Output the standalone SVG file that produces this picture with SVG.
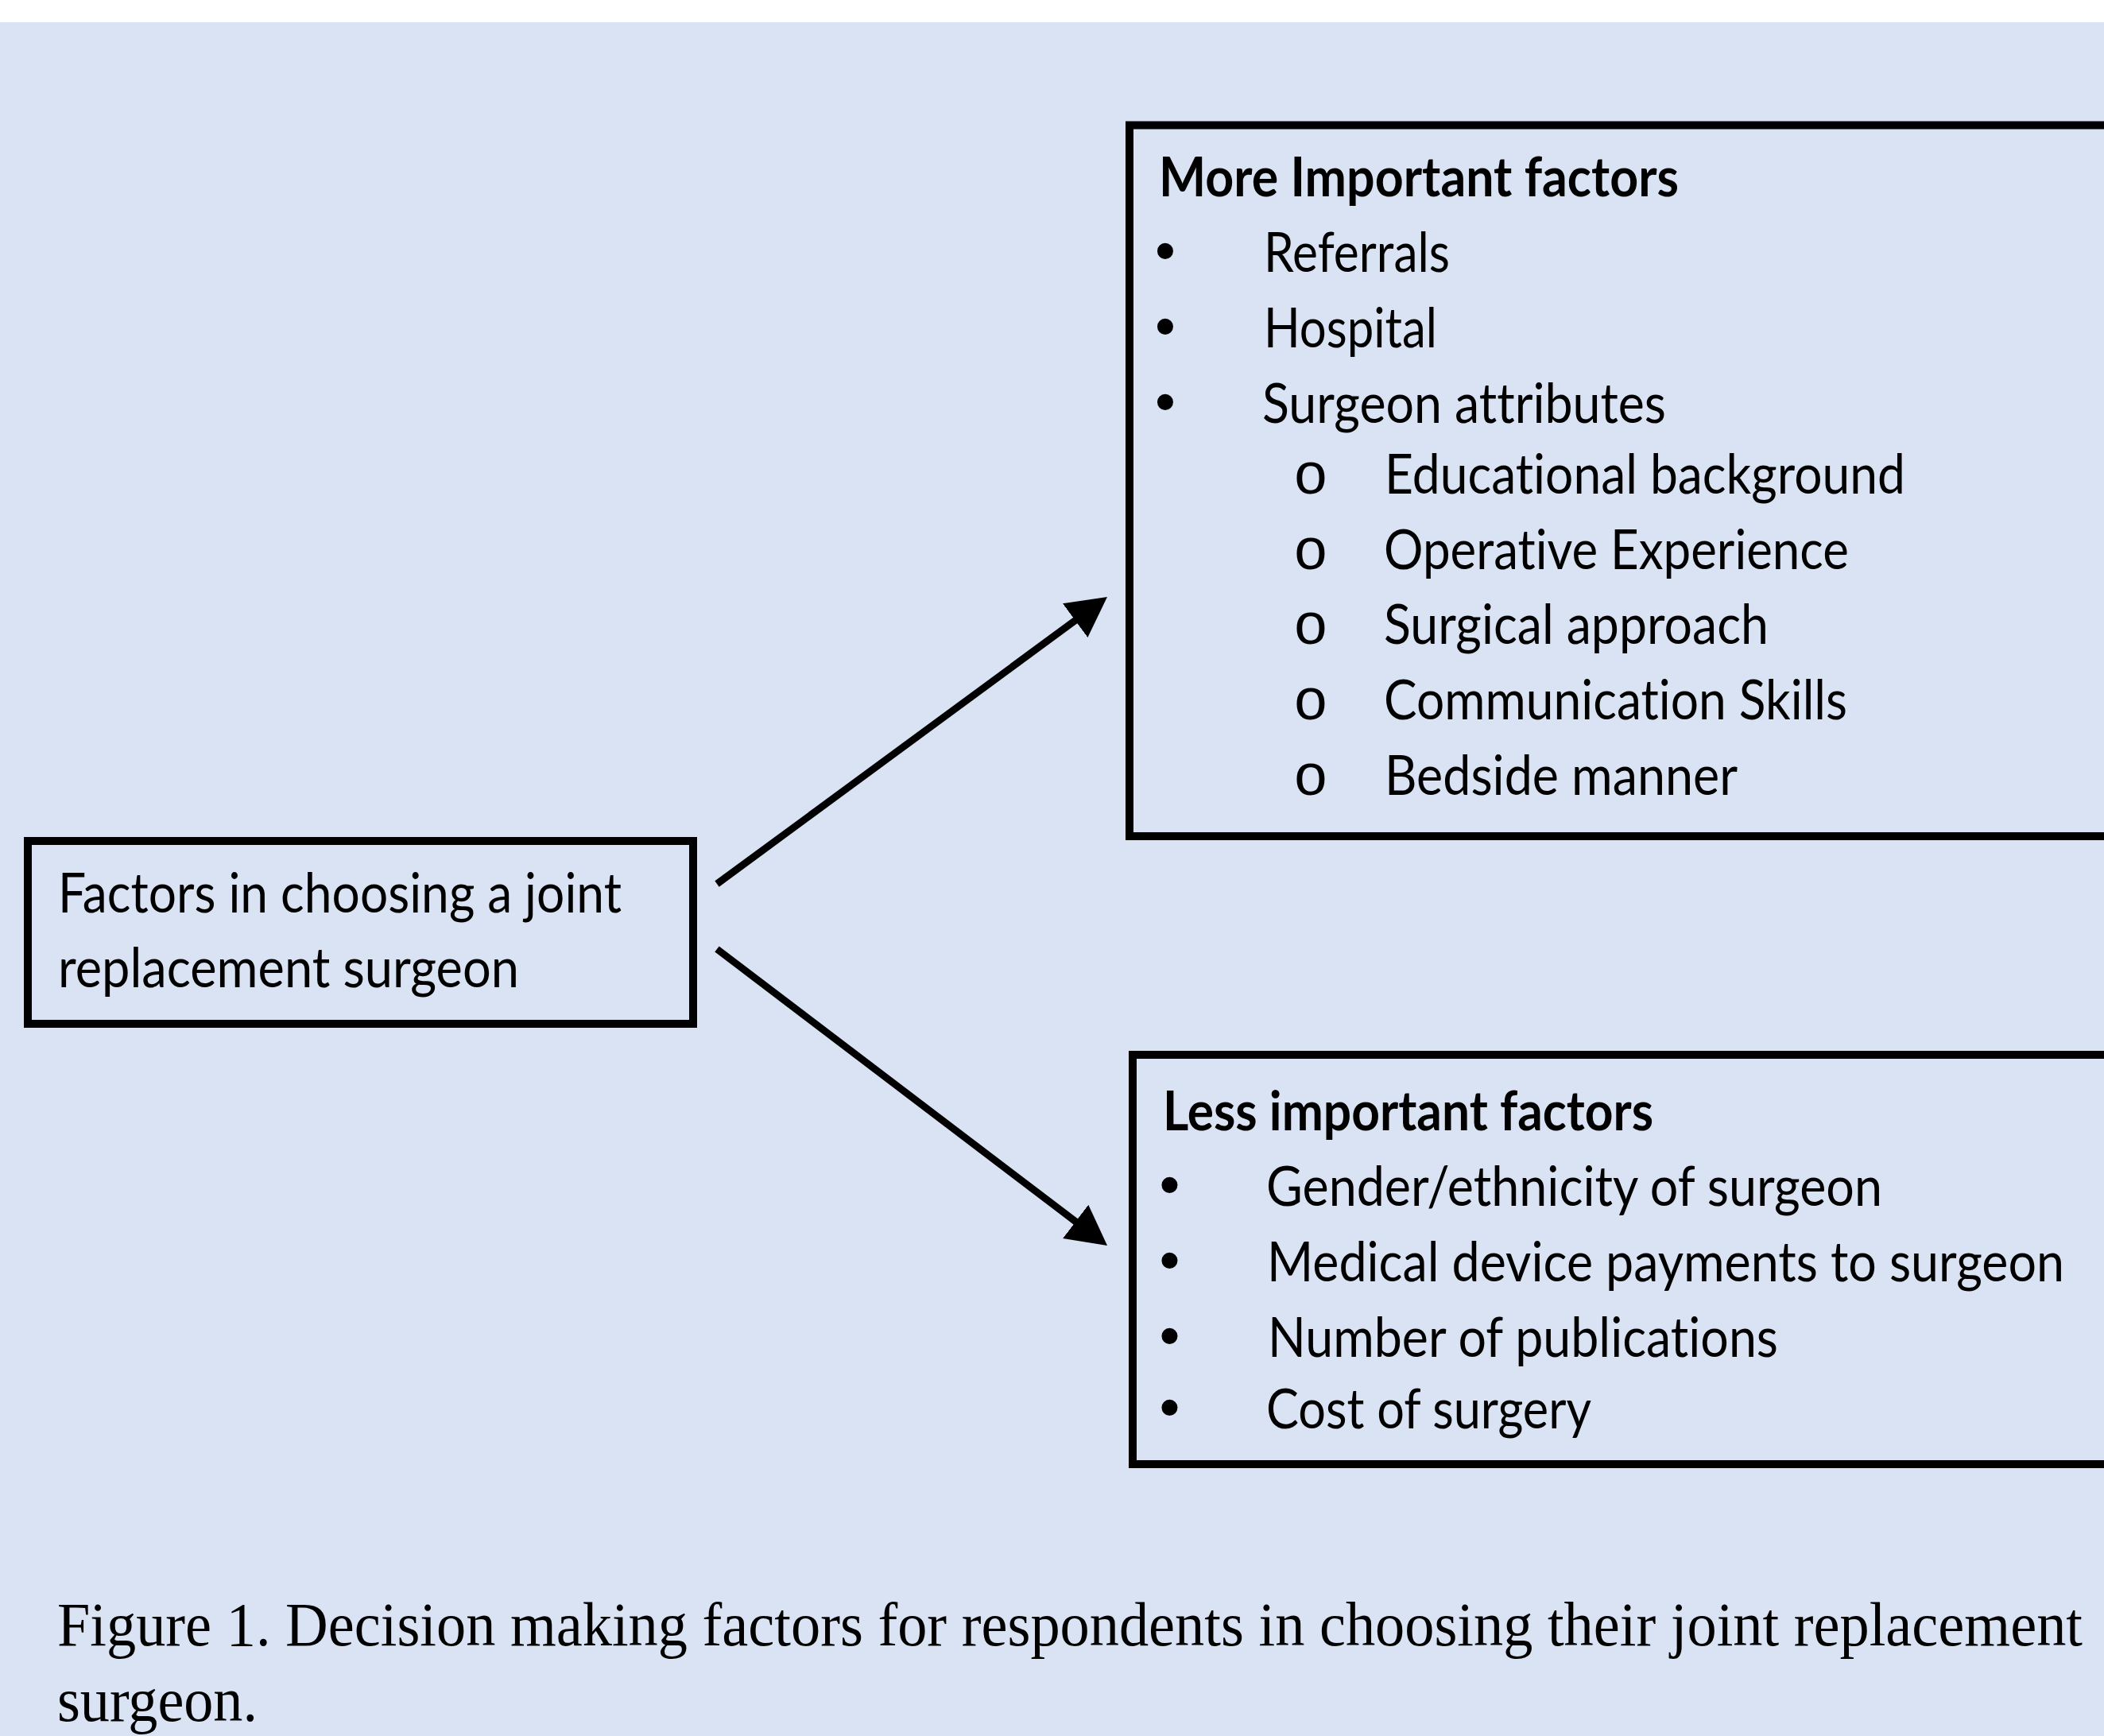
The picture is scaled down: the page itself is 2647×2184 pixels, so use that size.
<svg xmlns="http://www.w3.org/2000/svg" width="2647" height="2184" viewBox="0 0 2647 2184">
<style>
.bg{fill:#DAE3F3}
.box{fill:#DAE3F3;stroke:#000;stroke-width:10;stroke-linejoin:miter}
.t{font-family:Lato,"Liberation Sans",sans-serif;font-size:69px;fill:#000;font-variant-ligatures:none;font-feature-settings:"liga" 0,"clig" 0,"dlig" 0}
.b{font-weight:bold}
.bul{font-family:"Liberation Sans",Arial,sans-serif;font-size:74px;fill:#000;text-anchor:middle}
.sub{font-family:"Liberation Mono","Courier New",monospace;font-size:74px;fill:#000;text-anchor:middle}
.cap{font-family:"Liberation Serif","Times New Roman",serif;font-size:78px;fill:#000;font-variant-ligatures:none}
.conn{stroke:#000;stroke-width:9;fill:none;stroke-linecap:butt}
</style>
<defs>
<marker id="arrow" markerUnits="userSpaceOnUse" markerWidth="52" markerHeight="54" refX="5" refY="26.5" orient="auto" viewBox="0 0 52 54">
<path d="M0,0 L50,26.5 L0,53 Z" fill="#000"/>
</marker>
</defs>
<rect x="0" y="0" width="2647" height="2184" fill="#FFFFFF"/>
<rect class="bg" x="0" y="28" width="2647" height="2156"/>

<g id="connectors">
<line class="conn" x1="902" y1="1112" x2="1356.7" y2="777.7" marker-end="url(#arrow)"/>
<line class="conn" x1="902" y1="1194" x2="1357.2" y2="1539.8" marker-end="url(#arrow)"/>
</g>

<g id="node-source">
<rect class="box" x="35" y="1058" width="837" height="230"/>
<text class="t" x="73" y="1148" textLength="709" lengthAdjust="spacingAndGlyphs">Factors in choosing a joint</text>
<text class="t" x="73" y="1242" textLength="580" lengthAdjust="spacingAndGlyphs">replacement surgeon</text>
</g>

<g id="node-more">
<rect class="box" x="1421" y="157.5" width="1300" height="894.5"/>
<text class="t b" x="1458" y="247" textLength="654" lengthAdjust="spacingAndGlyphs">More Important factors</text>
<text class="bul" x="1466" y="341">•</text>
<text class="t" x="1590" y="342" textLength="234" lengthAdjust="spacingAndGlyphs">Referrals</text>
<text class="bul" x="1466" y="436">•</text>
<text class="t" x="1590" y="437" textLength="218" lengthAdjust="spacingAndGlyphs">Hospital</text>
<text class="bul" x="1466" y="531">•</text>
<text class="t" x="1588" y="532" textLength="508" lengthAdjust="spacingAndGlyphs">Surgeon attributes</text>
<text class="sub" x="1649" y="621">o</text>
<text class="t" x="1742" y="621" textLength="655" lengthAdjust="spacingAndGlyphs">Educational background</text>
<text class="sub" x="1649" y="716">o</text>
<text class="t" x="1741" y="716" textLength="585" lengthAdjust="spacingAndGlyphs">Operative Experience</text>
<text class="sub" x="1649" y="810">o</text>
<text class="t" x="1741" y="810" textLength="484" lengthAdjust="spacingAndGlyphs">Surgical approach</text>
<text class="sub" x="1649" y="905">o</text>
<text class="t" x="1741" y="905" textLength="583" lengthAdjust="spacingAndGlyphs">Communication Skills</text>
<text class="sub" x="1649" y="1000">o</text>
<text class="t" x="1742" y="1000" textLength="444" lengthAdjust="spacingAndGlyphs">Bedside manner</text>
</g>

<g id="node-less">
<rect class="box" x="1425" y="1327" width="1300" height="515"/>
<text class="t b" x="1463" y="1422" textLength="617" lengthAdjust="spacingAndGlyphs">Less important factors</text>
<text class="bul" x="1471.5" y="1516">•</text>
<text class="t" x="1593" y="1517" textLength="775" lengthAdjust="spacingAndGlyphs">Gender/ethnicity of surgeon</text>
<text class="bul" x="1471.5" y="1611">•</text>
<text class="t" x="1594" y="1612" textLength="1003" lengthAdjust="spacingAndGlyphs">Medical device payments to surgeon</text>
<text class="bul" x="1471.5" y="1706">•</text>
<text class="t" x="1595" y="1707" textLength="642" lengthAdjust="spacingAndGlyphs">Number of publications</text>
<text class="bul" x="1471.5" y="1796">•</text>
<text class="t" x="1593" y="1797" textLength="409" lengthAdjust="spacingAndGlyphs">Cost of surgery</text>
</g>

<g id="caption">
<text class="cap" x="72" y="2070" textLength="2548" lengthAdjust="spacingAndGlyphs">Figure 1. Decision making factors for respondents in choosing their joint replacement</text>
<text class="cap" x="72" y="2165" textLength="252" lengthAdjust="spacingAndGlyphs">surgeon.</text>
</g>
</svg>
